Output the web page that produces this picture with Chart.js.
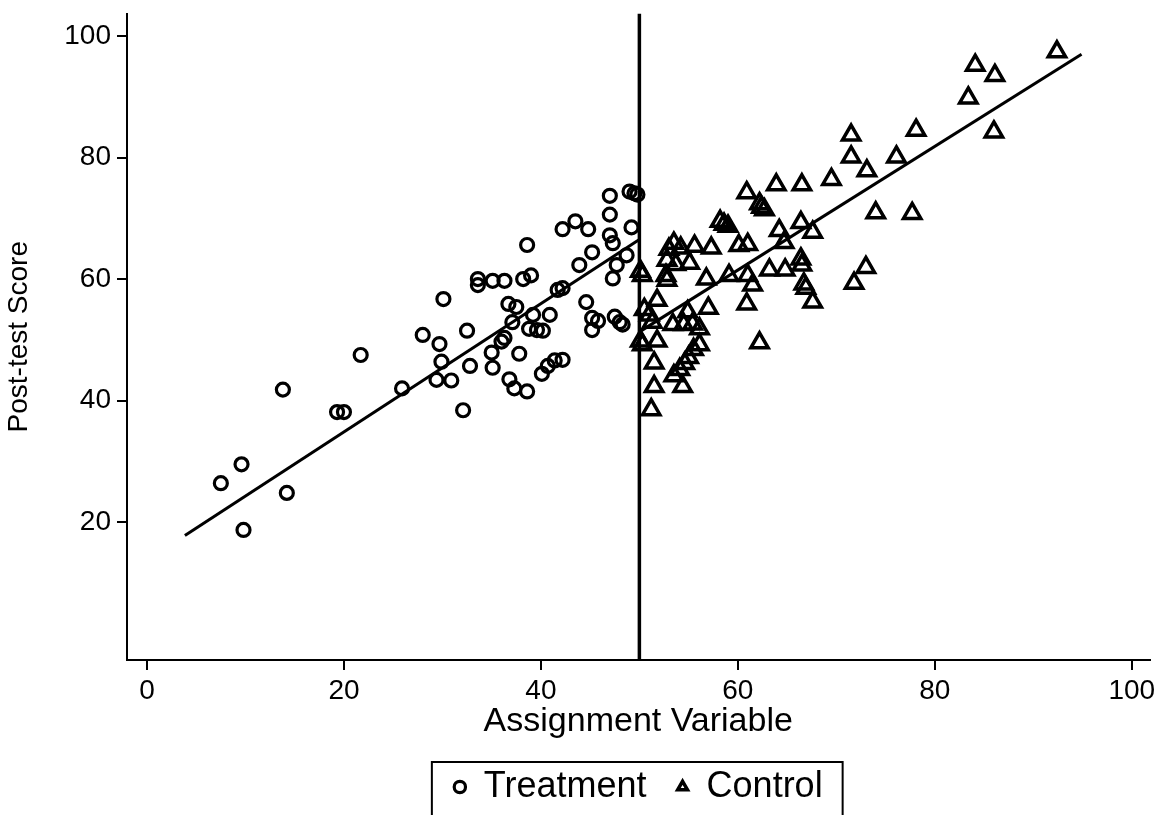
<!DOCTYPE html>
<html>
<head>
<meta charset="utf-8">
<script src="https://cdn.jsdelivr.net/npm/chart.js@4.4.1/dist/chart.umd.min.js"></script>
<style>
  html, body { margin: 0; padding: 0; background: #fff; }
  #wrap { width: 1163px; height: 815px; }
</style>
</head>
<body>
<div id="wrap"><canvas id="rdChart" width="1163" height="815"></canvas></div>
<script>
// treatment group (circles)
var treatX = [7.5, 9.6, 9.8, 13.8, 14.2, 19.3, 20.0, 21.7, 25.9, 28.0,
  29.7, 29.9, 29.4, 30.9, 30.1, 32.5, 32.8, 32.1, 33.6, 33.6,
  35.1, 36.3, 35.0, 35.1, 36.0, 36.3, 36.8, 37.3, 38.6, 37.8,
  36.7, 37.5, 37.1, 38.6, 38.2, 39.0, 38.8, 39.6, 40.2, 39.2,
  40.9, 40.1, 40.7, 41.4, 42.2, 41.7, 42.2, 42.2, 43.5, 44.8,
  43.9, 45.2, 44.6, 45.2, 45.8, 45.2, 47.0, 47.0, 47.0, 47.3,
  47.7, 47.3, 48.7, 47.5, 48.0, 48.3, 49.0, 49.5, 49.8, 49.2];
var treatY = [26.4, 29.5, 18.7, 41.8, 24.8, 38.1, 38.1, 47.5, 42.0, 50.8,
  49.3, 46.4, 43.4, 43.3, 56.7, 51.5, 45.7, 38.4, 60.0, 59.0,
  59.7, 59.7, 47.9, 45.4, 49.7, 50.3, 43.5, 42.0, 41.5, 47.7,
  55.9, 55.4, 52.9, 65.6, 60.0, 60.6, 51.8, 51.6, 51.5, 54.1,
  54.1, 44.4, 45.7, 46.6, 46.7, 58.2, 58.5, 68.2, 69.5, 68.2,
  62.3, 64.4, 56.2, 53.6, 53.1, 51.6, 73.7, 70.6, 67.2, 65.9,
  62.3, 60.1, 63.9, 53.8, 52.9, 52.5, 74.4, 74.1, 73.9, 68.5];

// control group (triangles)
var ctrlX = [50.1, 50.3, 50.5, 51.0, 51.3, 50.1, 50.3, 51.8, 51.8, 51.5,
  51.5, 51.2, 52.7, 52.8, 53.0, 53.5, 54.2, 55.6, 57.3, 52.8,
  53.7, 55.1, 56.8, 58.2, 58.6, 59.0, 60.1, 61.0, 60.9, 62.2,
  62.4, 62.7, 63.9, 66.5, 69.5, 71.5, 71.5, 73.1, 76.1, 78.1,
  83.4, 84.1, 86.1, 92.4, 86.0, 74.0, 77.7, 64.2, 64.7, 66.4,
  67.6, 59.1, 61.0, 61.5, 63.2, 64.8, 66.4, 66.5, 66.7, 66.9,
  67.6, 73.0, 71.8, 60.9, 57.0, 62.2, 54.9, 53.4, 54.5, 55.4,
  56.1, 56.1, 55.5, 55.0, 54.6, 54.1, 53.5, 54.4];
var ctrlY = [61.3, 60.6, 55.0, 54.1, 52.9, 49.8, 49.2, 56.5, 49.8, 46.2,
  42.3, 38.5, 60.6, 59.8, 64.9, 65.9, 65.1, 65.4, 65.1, 63.1,
  62.4, 62.6, 60.0, 69.5, 69.0, 68.7, 65.5, 65.7, 74.2, 72.4,
  71.8, 71.4, 75.5, 75.5, 76.4, 80.1, 83.7, 77.8, 80.1, 84.5,
  89.8, 95.2, 93.5, 97.4, 84.2, 70.9, 70.8, 68.0, 66.0, 69.3,
  67.7, 60.6, 60.6, 59.0, 61.5, 61.5, 63.3, 62.3, 59.2, 58.5,
  56.2, 61.9, 59.3, 55.9, 55.2, 49.5, 54.6, 52.5, 52.5, 52.6,
  51.8, 49.2, 48.4, 47.1, 46.1, 45.1, 44.1, 42.3];

// fitted lines on each side of the cutoff
var treatFitX = [3.85, 50];
var treatFitY = [17.8, 66.5];
var ctrlFitX = [50, 94.9];
var ctrlFitY = [51.3, 97.0];
var cutoff = 50;

var xTicks = [0, 20, 40, 60, 80, 100];
var yTicks = [20, 40, 60, 80, 100];
var xMin = -2.03, xMax = 101.8;
var yMin = -2.7, yMax = 103.7;

const FONT = "'Liberation Sans', Arial, Helvetica, sans-serif";

function toPoints(xs, ys) {
  return xs.map((x, i) => ({ x: x, y: ys[i] }));
}

// border round the legend, like the stata key box
const legendBox = {
  id: "legendBox",
  afterDraw(chart) {
    const lg = chart.legend;
    if (!lg || !lg.legendHitBoxes || lg.legendHitBoxes.length == 0) return;
    const boxes = lg.legendHitBoxes;
    const first = boxes[0];
    const last = boxes[boxes.length - 1];
    const left = first.left - 22;
    const right = last.left + last.width + 20;
    const top = first.top - 7;
    const ctx = chart.ctx;
    ctx.save();
    ctx.strokeStyle = "#000";
    ctx.lineWidth = 2;
    ctx.strokeRect(left, top, right - left, chart.height - top + 10);
    ctx.restore();
  }
};

const rdChart = new Chart(document.getElementById("rdChart"), {
  type: "scatter",
  data: {
    datasets: [
      {
        label: "Treatment",
        data: toPoints(treatX, treatY),
        pointStyle: "circle",
        pointRadius: 6.5,
        borderWidth: 3.2,
        borderColor: "#000",
        backgroundColor: "rgba(0,0,0,0)",
      },
      {
        label: "Control",
        data: toPoints(ctrlX, ctrlY),
        pointStyle: "triangle",
        pointRadius: 10,
        borderWidth: 3.5,
        borderColor: "#000",
        backgroundColor: "rgba(0,0,0,0)",
      },
      {
        label: "fitTreat",
        data: toPoints(treatFitX, treatFitY),
        showLine: true,
        pointRadius: 0,
        borderWidth: 3,
        borderColor: "#000",
      },
      {
        label: "fitCtrl",
        data: toPoints(ctrlFitX, ctrlFitY),
        showLine: true,
        pointRadius: 0,
        borderWidth: 3,
        borderColor: "#000",
      },
      {
        label: "cutoff",
        data: [{ x: cutoff, y: yMin }, { x: cutoff, y: yMax }],
        showLine: true,
        pointRadius: 0,
        borderWidth: 3.5,
        borderColor: "#000",
      },
    ],
  },
  options: {
    responsive: false,
    animation: false,
    devicePixelRatio: 1,
    layout: { padding: { left: 0, right: 11, top: 10, bottom: 0 } },
    plugins: {
      tooltip: { enabled: false },
      legend: {
        position: "bottom",
        fullSize: false,
        labels: {
          usePointStyle: true,
          boxWidth: 12,
          boxHeight: 8,
          padding: 30,
          color: "#000",
          font: { family: FONT, size: 36 },
          filter: (item) => item.datasetIndex < 2,
        },
      },
    },
    scales: {
      x: {
        type: "linear",
        position: "bottom",
        min: xMin,
        max: xMax,
        afterBuildTicks: (axis) => { axis.ticks = xTicks.map((v) => ({ value: v })); },
        afterFit: (axis) => { axis.height = 79; },
        grid: { display: true, drawOnChartArea: false, drawTicks: true, tickLength: 10, color: "#000", lineWidth: 2 },
        border: { display: true, color: "#000", width: 2 },
        ticks: { color: "#000", font: { family: FONT, size: 28 }, padding: 4, maxRotation: 0, autoSkip: false },
        title: {
          display: true,
          text: "Assignment Variable",
          color: "#000",
          font: { family: FONT, size: 34, lineHeight: 1 },
          padding: { top: 2, bottom: 0 },
        },
      },
      y: {
        type: "linear",
        min: yMin,
        max: yMax,
        afterBuildTicks: (axis) => { axis.ticks = yTicks.map((v) => ({ value: v })); },
        afterFit: (axis) => {
          axis.width = 127;
          // keep the frame top where the reference has it
          axis.paddingTop = 0;
          axis.paddingBottom = 0;
        },
        grid: { display: true, drawOnChartArea: false, drawTicks: true, tickLength: 10, color: "#000", lineWidth: 2 },
        border: { display: true, color: "#000", width: 2 },
        ticks: { color: "#000", font: { family: FONT, size: 28 }, padding: 6 },
        title: {
          display: true,
          text: "Post-test Score",
          color: "#000",
          font: { family: FONT, size: 28 },
          padding: { top: 2, bottom: 0 },
        },
      },
    },
  },
  plugins: [legendBox],
});
</script>
</body>
</html>
